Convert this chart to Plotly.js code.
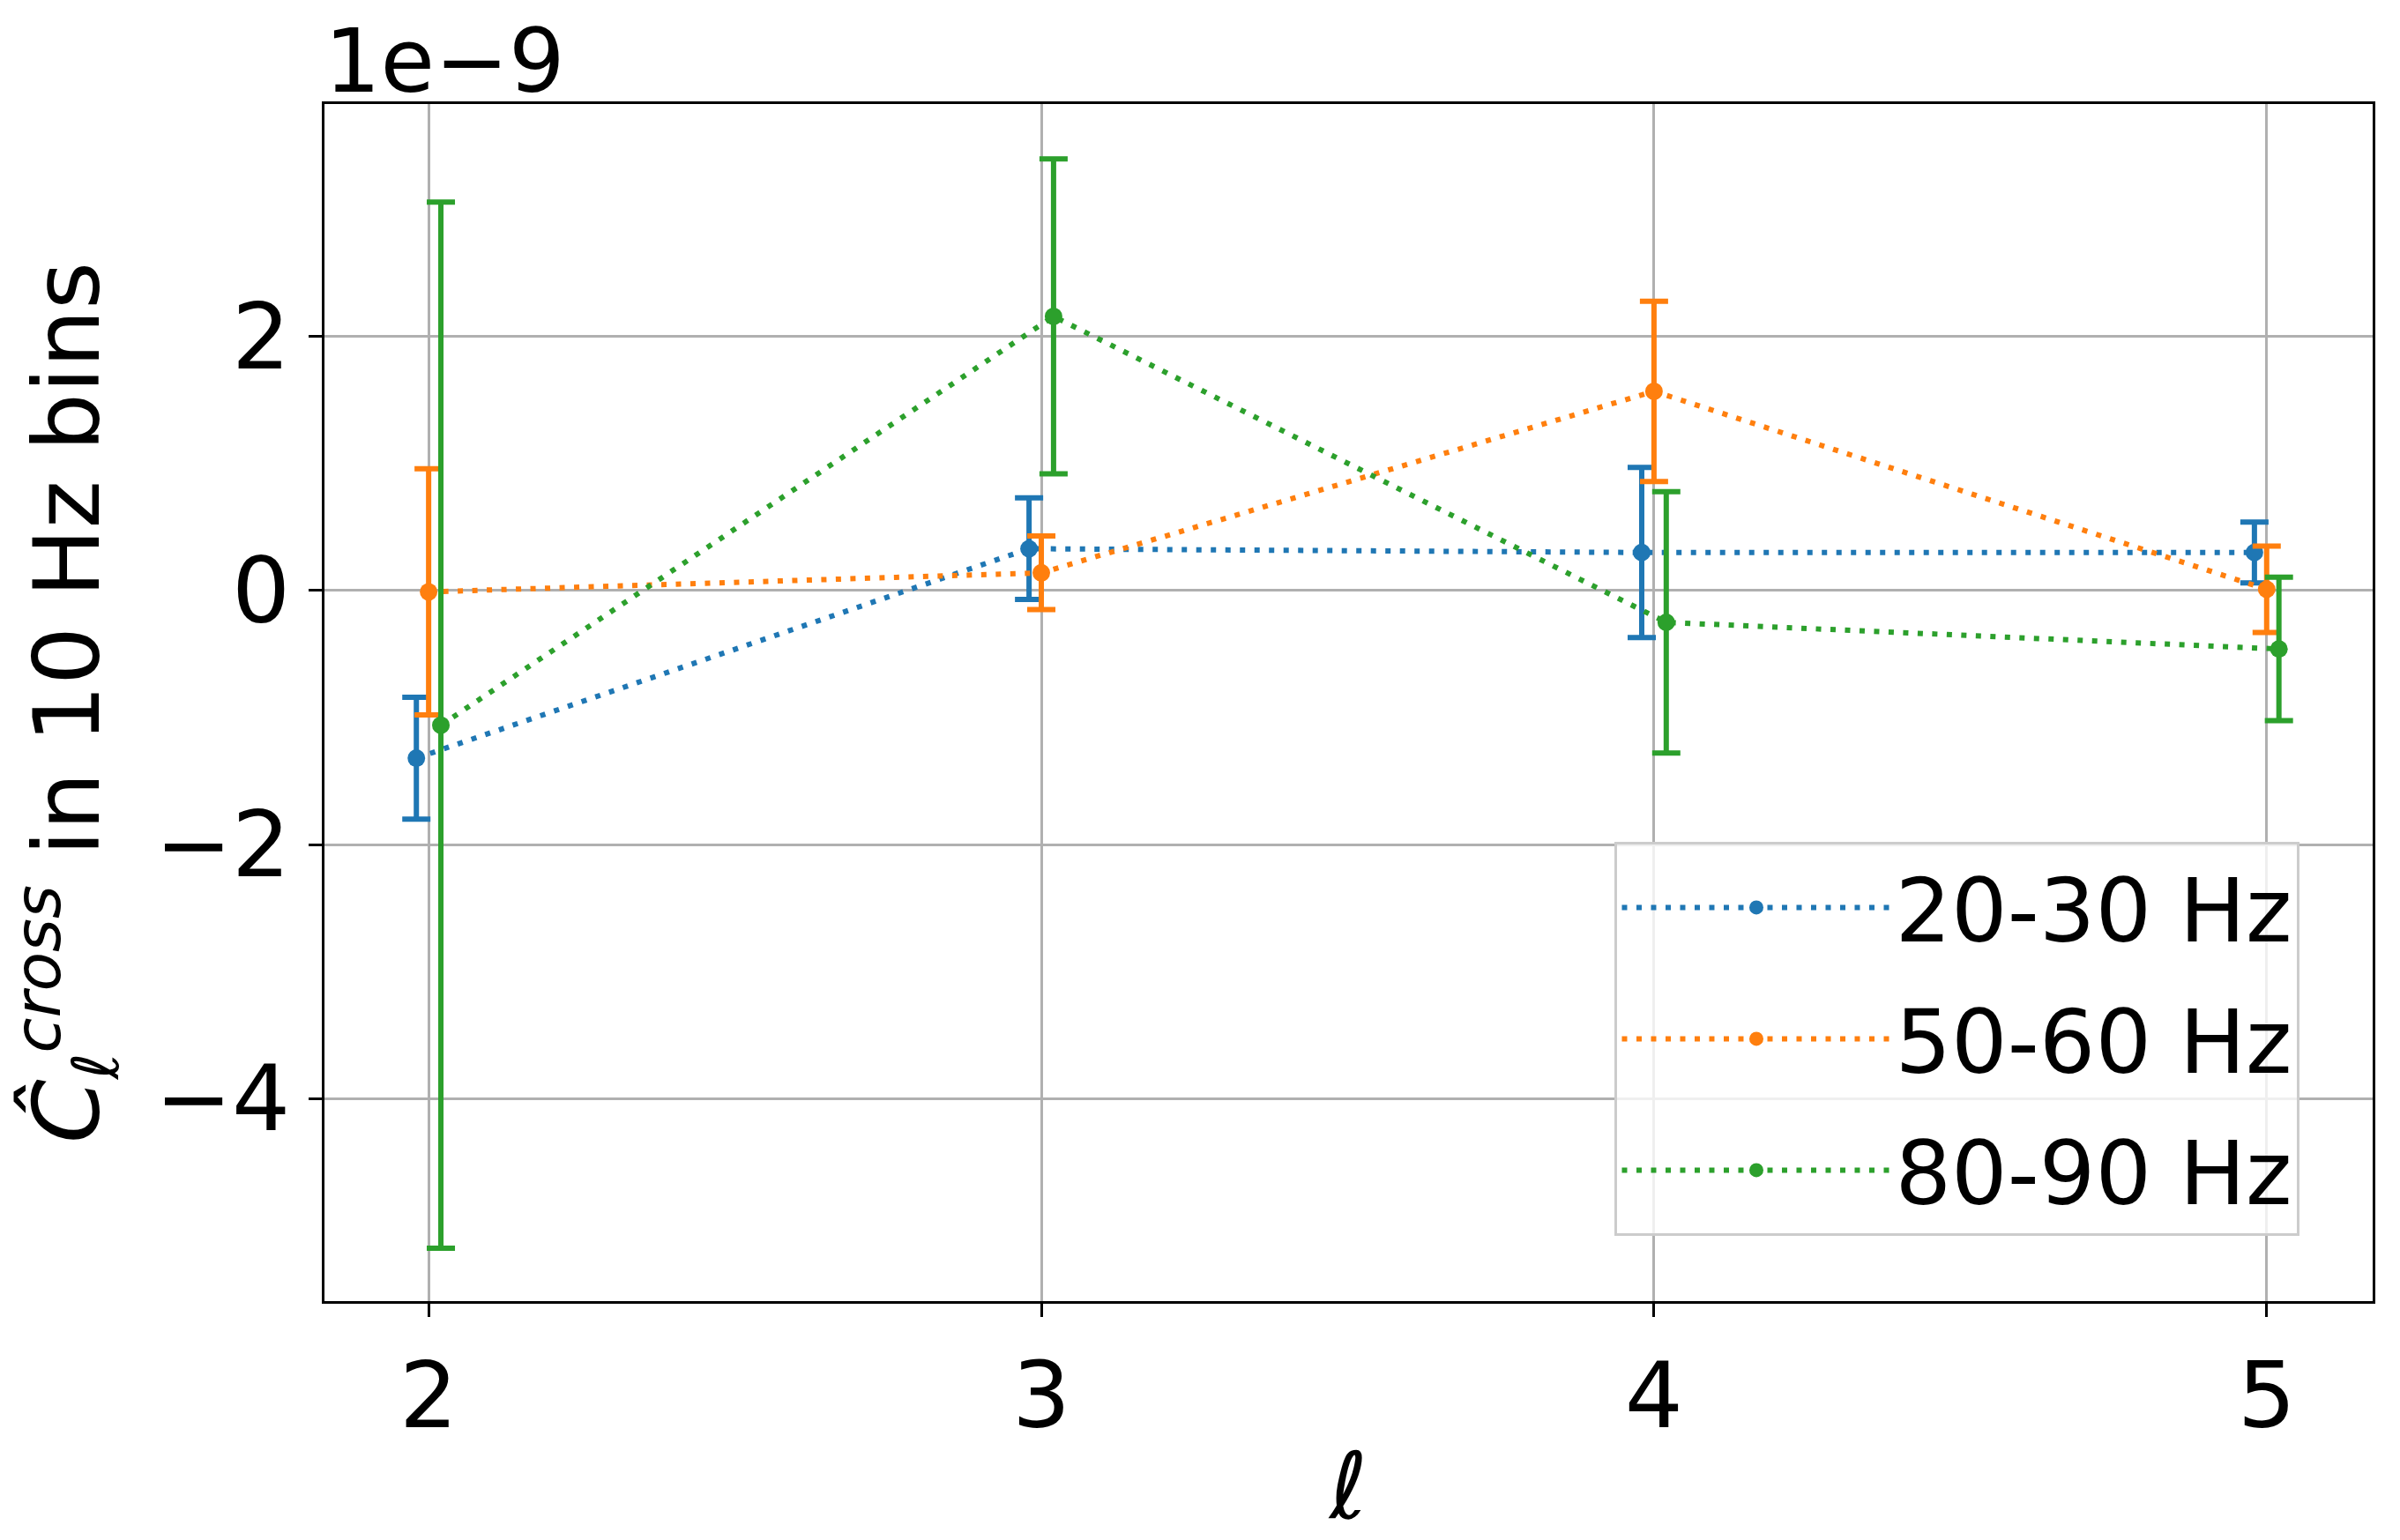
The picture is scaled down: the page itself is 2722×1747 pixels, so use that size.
<!DOCTYPE html>
<html>
<head>
<meta charset="utf-8">
<script src="https://cdn.plot.ly/plotly-3.0.1.min.js"></script>
<style>html,body{margin:0;padding:0;background:#fff;}#chart{width:2722px;height:1747px;}</style>
</head>
<body>
<div id="chart"></div>
<script>
// multipole ℓ
const ell = [2, 3, 4, 5];
// per-series horizontal offset (dodge) in ℓ units
const offsets = [-0.02, 0, 0.02];
const seriesNames = ['20-30 Hz', '50-60 Hz', '80-90 Hz'];
const seriesColors = ['#1f77b4', '#ff7f0e', '#2ca02c'];
// values in units of 1e-9
const c20_30 = [-1.32, 0.33, 0.30, 0.30];
const e20_30 = [0.48, 0.40, 0.67, 0.24];
const c50_60 = [-0.01, 0.14, 1.57, 0.01];
const e50_60 = [0.97, 0.29, 0.71, 0.34];
const c80_90 = [-1.06, 2.16, -0.25, -0.46];
const e80_90 = [4.12, 1.24, 1.03, 0.565];
const yTicks = [-4, -2, 0, 2];
const xTicks = [2, 3, 4, 5];

const values = [c20_30, c50_60, c80_90];
const errors = [e20_30, e50_60, e80_90];

const FONT = 'DejaVu Sans, sans-serif';
const traces = values.map((v, i) => ({
  x: ell.map(l => l + offsets[i]),
  y: v,
  name: seriesNames[i],
  legendgroup: 'g' + i,
  type: 'scatter',
  mode: 'lines+markers',
  line: {color: seriesColors[i], width: 6, dash: '6px,10.5px'},
  marker: {color: seriesColors[i], size: 20},
  error_y: {type: 'data', array: errors[i], visible: true, color: seriesColors[i], thickness: 6, width: 16}
}));

const axisCommon = {
  showline: true, linecolor: '#000', linewidth: 3, mirror: true,
  ticks: 'outside', ticklen: 15, tickwidth: 3, tickcolor: '#000',
  showgrid: true, gridcolor: '#b0b0b0', gridwidth: 3, zeroline: false,
  tickfont: {family: FONT, size: 104, color: '#000'}
};

const layout = {
  width: 2722, height: 1747,
  paper_bgcolor: '#fff', plot_bgcolor: '#fff',
  margin: {l: 368, r: 31, t: 118, b: 271},
  font: {family: FONT, color: '#000'},
  showlegend: true,
  xaxis: Object.assign({}, axisCommon, {
    range: [1.83, 5.173], tickvals: xTicks, ticktext: xTicks.map(String),
    title: {text: '<i>ℓ</i>', font: {family: FONT, size: 104, color: '#000'}, standoff: 8}
  }),
  yaxis: Object.assign({}, axisCommon, {
    range: [-5.597, 3.833], tickvals: yTicks,
    title: {text: '<i>Ĉ</i><sub><i>ℓ</i></sub><sup><i>cross</i></sup> in 10 Hz bins', font: {family: FONT, size: 104, color: '#000'}, standoff: 40}
  }),
  legend: {
    x: 0.630, y: 0.3837, xanchor: 'left', yanchor: 'top',
    bgcolor: 'rgba(255,255,255,0.8)', bordercolor: '#cccccc', borderwidth: 3,
    font: {family: FONT, size: 100, color: '#000'},
    tracegroupgap: 16, traceorder: 'grouped', itemwidth: 305
  },
  annotations: [{
    text: '1e−9', xref: 'paper', yref: 'paper', x: 0, y: 1,
    xanchor: 'left', yanchor: 'bottom', showarrow: false, yshift: -12, xshift: -2,
    font: {family: FONT, size: 100, color: '#000'}
  }]
};

Plotly.newPlot('chart', traces, layout, {staticPlot: true, displayModeBar: false});
</script>
</body>
</html>
